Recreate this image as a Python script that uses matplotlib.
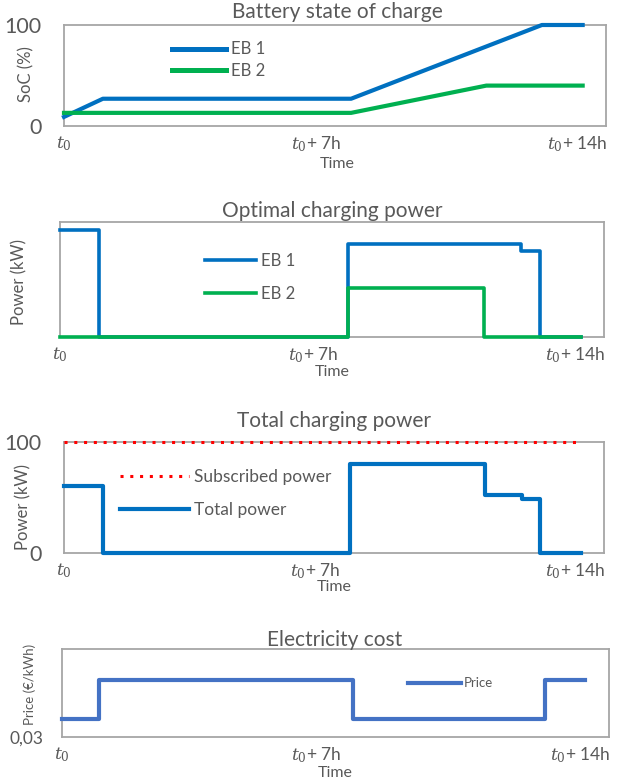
import numpy as np
import matplotlib
matplotlib.use("Agg")
import matplotlib.pyplot as plt

plt.rcParams['font.family'] = ['Lato', 'DejaVu Sans']
plt.rcParams['mathtext.fontset'] = 'custom'
plt.rcParams['mathtext.it'] = 'DejaVu Serif:italic'
plt.rcParams['mathtext.rm'] = 'DejaVu Serif'

# data (time in hours after t0)
soc_t_eb1 = [0, 1.05, 7.75, 12.9, 14]
soc_eb1 = [9, 27, 27, 100, 100]
soc_t_eb2 = [0, 7.75, 11.4, 14]
soc_eb2 = [13, 13, 40, 40]

power_t = [0, 1.05, 7.75, 11.4, 12.4, 12.9, 14]
power_eb1 = [60, 0, 52.5, 52.5, 48.5, 0, 0]
power_eb2 = [0, 0, 27.5, 0, 0, 0, 0]
subscribed_power = 100

price_t = [0, 1.0, 7.78, 12.92, 14]
price = [0.055, 0.108, 0.055, 0.108, 0.108]

tick_labels = [r"$t_0$", r"$t_0$+ 7h", r"$t_0$+ 14h"]
tick_pos = [0, 6.8, 13.85]

BLUE = "#0070C0"
GREEN = "#00B050"
PRICE_BLUE = "#4472C4"
GREY_TXT = "#595959"
EDGE = "#A6A6A6"
W, H = 617, 783
T_END = 14.63


def make_axes(fig, left, right, top, bottom):
    ax = fig.add_axes([left / W, 1 - bottom / H, (right - left) / W, (bottom - top) / H])
    for s in ax.spines.values():
        s.set_color(EDGE)
        s.set_linewidth(1.3)
    ax.set_xlim(0, T_END)
    ax.set_xticks(tick_pos)
    ax.set_xticklabels(tick_labels)
    ax.tick_params(axis="both", length=0, labelsize=12.5, colors=GREY_TXT)
    ax.tick_params(axis="x", pad=6)
    return ax


def fig_text(fig, x, y, s, **kw):
    fig.text(x / W, 1 - y / H, s, ha="center", va="center", color=GREY_TXT, **kw)


fig = plt.figure(figsize=(W / 100, H / 100), dpi=100)

# panel 1 - state of charge
ax1 = make_axes(fig, 64, 606, 25, 126)
ax1.plot(soc_t_eb1, soc_eb1, color=BLUE, lw=3, label="EB 1", clip_on=False, zorder=3)
ax1.plot(soc_t_eb2, soc_eb2, color=GREEN, lw=3, label="EB 2", clip_on=False, zorder=3)
ax1.set_ylim(0, 100)
ax1.set_yticks([0, 100])
ax1.tick_params(axis="y", labelsize=15.5, pad=16)
leg = ax1.legend(loc="center left", bbox_to_anchor=(0.2, 0.65), frameon=False, fontsize=12,
                 handlelength=3.2, handletextpad=0.3, labelspacing=0.35, borderpad=0, borderaxespad=0)
for h in leg.get_lines():
    h.set_linewidth(3.6)
for t in leg.get_texts():
    t.set_color(GREY_TXT)
fig_text(fig, 337, 12, "Battery state of charge", fontsize=15)
fig_text(fig, 26, 74, "SoC (%)", fontsize=12, rotation=90)
fig_text(fig, 337, 164, "Time", fontsize=11.5)

# panel 2 - optimal charging power
ax2 = make_axes(fig, 60, 604, 222, 337)
ax2.step(power_t, power_eb1, where="post", color=BLUE, lw=2.6, label="EB 1", clip_on=False, zorder=3)
ax2.step(power_t, power_eb2, where="post", color=GREEN, lw=2.6, label="EB 2", clip_on=False, zorder=3)
ax2.set_ylim(0, 64.7)
ax2.set_yticks([])
leg = ax2.legend(loc="center left", bbox_to_anchor=(0.266, 0.517), frameon=False, fontsize=12,
                 handlelength=3.1, handletextpad=0.3, labelspacing=1.0, borderpad=0, borderaxespad=0)
for t in leg.get_texts():
    t.set_color(GREY_TXT)
fig_text(fig, 332, 211, "Optimal charging power", fontsize=15)
fig_text(fig, 19, 282, "Power (kW)", fontsize=12, rotation=90)
fig_text(fig, 332, 372, "Time", fontsize=11.5)

# panel 3 - total charging power
total_power = np.array(power_eb1) + np.array(power_eb2)
ax3 = make_axes(fig, 64, 604, 442, 553)
ax3.plot([0, 14], [subscribed_power, subscribed_power], color="#FF0000", lw=2.2,
         linestyle=(0, (1, 2.2)), label="Subscribed power", clip_on=False, zorder=3)
ax3.step(power_t, total_power, where="post", color=BLUE, lw=3, label="Total power", clip_on=False, zorder=3)
ax3.set_ylim(0, 100)
ax3.set_yticks([0, 100])
ax3.tick_params(axis="y", labelsize=15.5, pad=16)
leg = ax3.legend(loc="center left", bbox_to_anchor=(0.103, 0.536), frameon=False, fontsize=12.5,
                 handlelength=4.0, handletextpad=0.3, labelspacing=0.95, borderpad=0, borderaxespad=0)
for t in leg.get_texts():
    t.set_color(GREY_TXT)
fig_text(fig, 334, 421, "Total charging power", fontsize=15)
fig_text(fig, 23, 507, "Power (kW)", fontsize=12, rotation=90)
fig_text(fig, 334, 587, "Time", fontsize=11.5)

# panel 4 - electricity cost
ax4 = make_axes(fig, 62, 609, 649, 737)
ax4.step(price_t, price, where="post", color=PRICE_BLUE, lw=3, label="Price", clip_on=False, zorder=3)
ax4.set_ylim(0.03, 0.15)
ax4.set_yticks([0.03])
ax4.set_yticklabels(["0,03"])
ax4.tick_params(axis="y", labelsize=12.5, pad=13)
leg = ax4.legend(loc="center left", bbox_to_anchor=(0.633, 0.61), frameon=False, fontsize=9.5,
                 handlelength=4.0, handletextpad=0.2, borderpad=0, borderaxespad=0)
for t in leg.get_texts():
    t.set_color(GREY_TXT)
fig_text(fig, 335, 640, "Electricity cost", fontsize=15)
fig_text(fig, 30, 684, "Price (€/kWh)", fontsize=9.5, rotation=90)
fig_text(fig, 335, 773, "Time", fontsize=11.5)

fig.savefig("out.png", dpi=100)
